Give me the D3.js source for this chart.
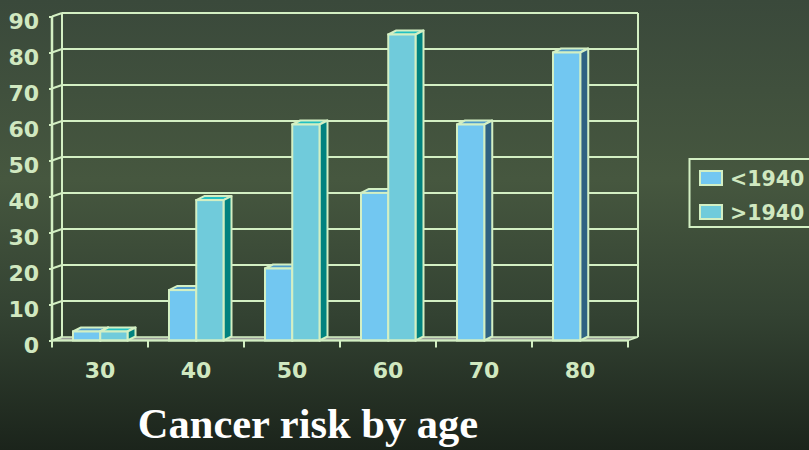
<!DOCTYPE html>
<html>
<head>
<meta charset="utf-8">
<script src="https://cdn.jsdelivr.net/npm/d3@7"></script>
<style>
  html, body { margin: 0; padding: 0; background: #2c382c; }
  svg { display: block; }
</style>
</head>
<body>
<svg id="chart" width="809" height="450"></svg>
<script>
// Age groups on the x axis
const categories = ["30", "40", "50", "60", "70", "80"];
// Cancer risk per age group, one array per birth cohort (null = no bar)
const before1940 = [2.5, 14, 20, 41, 60, 80];
const after1940 = [2.5, 39, 60, 85, null, null];
const seriesNames = ["<1940", ">1940"];
const yTicks = [0, 10, 20, 30, 40, 50, 60, 70, 80, 90];

const W = 809, H = 450;
const svg = d3.select("#chart");

// background gradient
const defs = svg.append("defs");
const grad = defs.append("linearGradient").attr("id", "bg")
  .attr("x1", 0).attr("y1", 0).attr("x2", 0).attr("y2", 1);
[["0%", "#3a493b"], ["40%", "#46573f"], ["70%", "#334232"], ["100%", "#1b241b"]]
  .forEach(([o, c]) => grad.append("stop").attr("offset", o).attr("stop-color", c));
svg.append("rect").attr("width", W).attr("height", H).attr("fill", "url(#bg)");

const lineCol = "#d3efc3";
const textCol = "#d0e8c0";
const labelFont = "bold 22px 'DejaVu Sans', Verdana, sans-serif";

// plot geometry (front plane) and wall depth
const x0 = 52, x1 = 628;
const y = d3.scaleLinear().domain([0, 90]).range([340.5, 16.5]);
const wallDx = 10, wallDy = -3.5;
const barDx = 8, barDy = -4;

const x = d3.scaleBand().domain(categories).range([x0, x1]).padding(0);
const bw = x.bandwidth();
const inner = d3.scaleBand().domain(seriesNames).range([bw / 2 - 27, bw / 2 + 27.5]);

const g = svg.append("g");

// floor
const floorPts = [[x0, y(0)], [x1, y(0)], [x1 + wallDx, y(0) + wallDy], [x0 + wallDx, y(0) + wallDy]];
g.append("polygon").attr("points", floorPts.map(p => p.join(",")).join(" "))
  .attr("fill", "#9c9e9a").attr("stroke", lineCol).attr("stroke-width", 1.5);

// back wall gridlines
g.selectAll(".grid").data(yTicks.filter(d => d > 0)).join("line")
  .attr("x1", x0 + wallDx).attr("x2", x1 + wallDx)
  .attr("y1", d => y(d) + wallDy).attr("y2", d => y(d) + wallDy)
  .attr("stroke", lineCol).attr("stroke-width", 2);

// back wall verticals
[x0 + wallDx, x1 + wallDx].forEach(xx => {
  g.append("line").attr("x1", xx).attr("x2", xx)
    .attr("y1", y(90) + wallDy).attr("y2", y(0) + wallDy)
    .attr("stroke", lineCol).attr("stroke-width", 2);
});

// left wall: diagonals at each tick
g.selectAll(".diag").data(yTicks).join("line")
  .attr("x1", x0).attr("x2", x0 + wallDx)
  .attr("y1", d => y(d)).attr("y2", d => y(d) + wallDy)
  .attr("stroke", lineCol).attr("stroke-width", 2);

// bars
const seriesData = [before1940, after1940];
const palette = [
  { front: "#72c7f1", top: "#4f9ccc", side: "#2f6282" },
  { front: "#70cbdb", top: "#22c0c2", side: "#01827f" }
];
categories.forEach((c, i) => {
  seriesNames.forEach((s, k) => {
    const v = seriesData[k][i];
    if (v == null) return;
    const bx = x(c) + inner(s), bwid = inner.bandwidth();
    const yt = y(v), yb = y(0);
    const col = palette[k];
    const bar = g.append("g");
    bar.append("polygon")
      .attr("points", [[bx, yt], [bx + barDx, yt + barDy], [bx + bwid + barDx, yt + barDy], [bx + bwid, yt]].map(p => p.join(",")).join(" "))
      .attr("fill", col.top).attr("stroke", lineCol).attr("stroke-width", 2).attr("stroke-linejoin", "round");
    bar.append("polygon")
      .attr("points", [[bx + bwid, yt], [bx + bwid + barDx, yt + barDy], [bx + bwid + barDx, yb + barDy], [bx + bwid, yb]].map(p => p.join(",")).join(" "))
      .attr("fill", col.side).attr("stroke", lineCol).attr("stroke-width", 2).attr("stroke-linejoin", "round");
    bar.append("rect").attr("x", bx).attr("y", yt).attr("width", bwid).attr("height", yb - yt)
      .attr("fill", col.front).attr("stroke", lineCol).attr("stroke-width", 2);
  });
});

// front y axis
const yAxis = svg.append("g").attr("transform", `translate(${x0},0)`)
  .call(d3.axisLeft(y).tickValues(yTicks).tickSize(3).tickPadding(10));
yAxis.select(".domain").attr("stroke", lineCol).attr("stroke-width", 2.5)
  .attr("d", `M0,${y(90)}V${y(0)}`);
yAxis.selectAll(".tick line").attr("stroke", lineCol).attr("stroke-width", 2);
yAxis.selectAll(".tick text").attr("fill", textCol)
  .style("font", labelFont).attr("dy", "0.55em");

// front x axis
const xAxis = svg.append("g").attr("transform", `translate(0,${y(0)})`)
  .call(d3.axisBottom(x).tickSize(0).tickPadding(22));
xAxis.select(".domain").attr("stroke", lineCol).attr("stroke-width", 2)
  .attr("d", `M${x0},0H${x1}`);
xAxis.selectAll(".tick text").attr("fill", textCol).style("font", labelFont);
// category boundary ticks
xAxis.selectAll(".bound").data(d3.range(categories.length + 1)).join("line")
  .attr("x1", i => x0 + i * bw).attr("x2", i => x0 + i * bw)
  .attr("y1", 0).attr("y2", 7).attr("stroke", lineCol).attr("stroke-width", 2);

// legend
const leg = svg.append("g");
leg.append("rect").attr("x", 689.5).attr("y", 159).attr("width", 130).attr("height", 68)
  .attr("fill", "none").attr("stroke", lineCol).attr("stroke-width", 2);
seriesNames.forEach((s, k) => {
  const ly = 171 + k * 34;
  leg.append("rect").attr("x", 700).attr("y", ly).attr("width", 22).attr("height", 14)
    .attr("fill", palette[k].front).attr("stroke", lineCol).attr("stroke-width", 2);
  leg.append("text").attr("x", 730).attr("y", ly + 15).text(s)
    .attr("fill", textCol).style("font", "bold 20.5px 'DejaVu Sans', Verdana, sans-serif");
});

// title
svg.append("text").attr("x", 308).attr("y", 438).attr("text-anchor", "middle")
  .text("Cancer risk by age").attr("fill", "#ffffff")
  .style("font", "bold 42.5px 'Liberation Serif', 'Times New Roman', serif");
</script>
</body>
</html>
